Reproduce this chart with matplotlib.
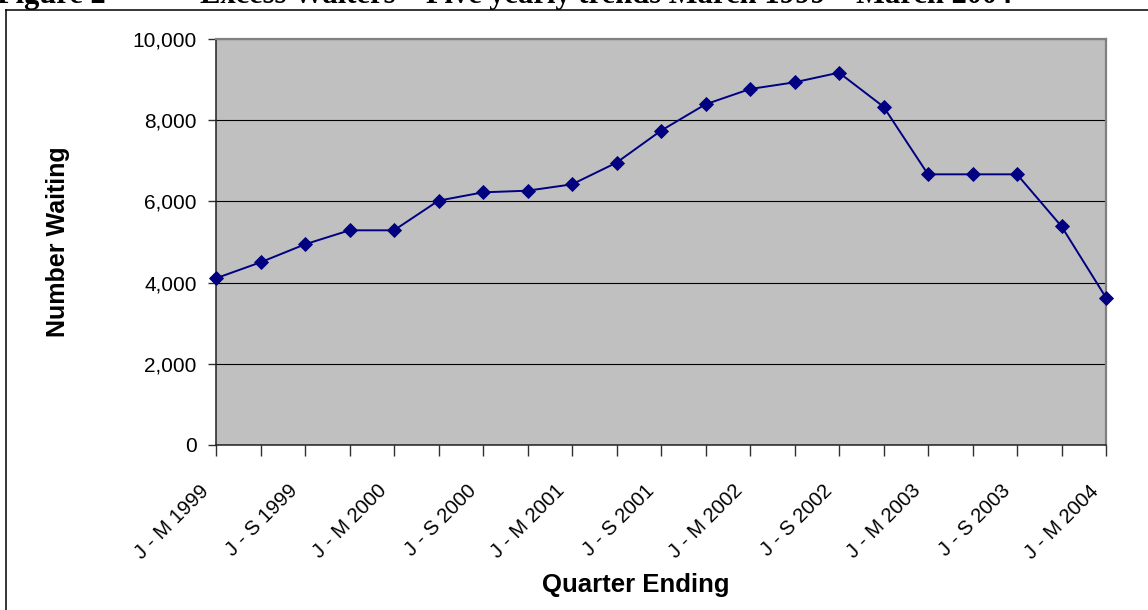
import matplotlib
matplotlib.use("Agg")
import matplotlib.pyplot as plt
import matplotlib.transforms as mtransforms
from matplotlib.lines import Line2D

# ---- data ----
quarters = [
    "J - M 1999", "A - J 1999", "J - S 1999", "O - D 1999",
    "J - M 2000", "A - J 2000", "J - S 2000", "O - D 2000",
    "J - M 2001", "A - J 2001", "J - S 2001", "O - D 2001",
    "J - M 2002", "A - J 2002", "J - S 2002", "O - D 2002",
    "J - M 2003", "A - J 2003", "J - S 2003", "O - D 2003",
    "J - M 2004",
]
waiting = [4106, 4500, 4943, 5288, 5288, 6018, 6223, 6264, 6420, 6954,
           7742, 8391, 8768, 8933, 9171, 8333, 6667, 6667, 6667, 5386, 3629]
y_ticks = [0, 2000, 4000, 6000, 8000, 10000]
title_left = "Figure 2"
title_main = "Excess Waiters \u2013 Five yearly trends March 1999 \u2013 March 2004"
x_title = "Quarter Ending"
y_title = "Number Waiting"

W, H = 1148, 610
fig = plt.figure(figsize=(W / 100, H / 100), dpi=100)
fig.patch.set_facecolor("white")

L, R, T, B = 216, 1106, 39, 445
ax = fig.add_axes([L / W, (H - B) / H, (R - L) / W, (B - T) / H])
ax.set_facecolor("#C0C0C0")

xs = list(range(len(quarters)))
ax.plot(xs, waiting, color="#000080", lw=1.4, marker="D", ms=7.3,
        mfc="#000080", mec="#000080", mew=0.6, clip_on=False, zorder=5)

ax.set_xlim(0, len(quarters) - 1)
ax.set_ylim(0, 10000)
ax.set_yticks(y_ticks)
ax.set_yticklabels([f"{v:,}" for v in y_ticks])
ax.yaxis.grid(True, color="black", lw=0.8)
ax.set_axisbelow(True)

ax.set_xticks(xs)
ax.set_xticklabels([])
blend = mtransforms.blended_transform_factory(ax.transData, ax.transAxes)
off = mtransforms.ScaledTranslation(-10 / 100, -43 / 100, fig.dpi_scale_trans)
for i, q in enumerate(quarters):
    if i % 2 == 0:
        ax.text(i, 0, q, transform=blend + off, rotation=45, ha="right",
                va="center", rotation_mode="anchor", fontsize=14.6,
                family="Liberation Sans", clip_on=False)

ax.tick_params(axis="x", direction="out", length=8, width=1.0,
               color="#303030")
ax.tick_params(axis="y", direction="out", length=6, width=1.0,
               color="#303030", pad=8, labelsize=15)
for lab in ax.get_yticklabels():
    lab.set_family("Liberation Sans")

for s in ("left", "bottom"):
    ax.spines[s].set_color("#202020")
    ax.spines[s].set_linewidth(1.1)
for s in ("top", "right"):
    ax.spines[s].set_color("#808080")
    ax.spines[s].set_linewidth(1.6)

fig.text(58 / W, 1 - 242 / H, y_title, rotation=90, ha="center", va="center",
         fontsize=18, fontweight="bold", family="Liberation Sans")
fig.text(636 / W, 1 - 585 / H, x_title, ha="center", va="center",
         fontsize=18.5, fontweight="bold", family="Liberation Sans")

fig.text(-3 / W, 1 - 3 / H, title_left, ha="left", va="baseline",
         fontsize=22, fontweight="bold", family="Liberation Serif")
fig.text(200 / W, 1 - 3 / H, title_main, ha="left", va="baseline",
         fontsize=22, fontweight="bold", family="Liberation Serif")

# outer frame (left and top edges visible)
fig.add_artist(Line2D([6 / W, 6 / W], [0, 1 - 9.5 / H], transform=fig.transFigure,
                      color="black", lw=1.1))
fig.add_artist(Line2D([6 / W, 1], [1 - 9.5 / H, 1 - 9.5 / H], transform=fig.transFigure,
                      color="black", lw=1.1))

fig.savefig("out.png", dpi=100)
